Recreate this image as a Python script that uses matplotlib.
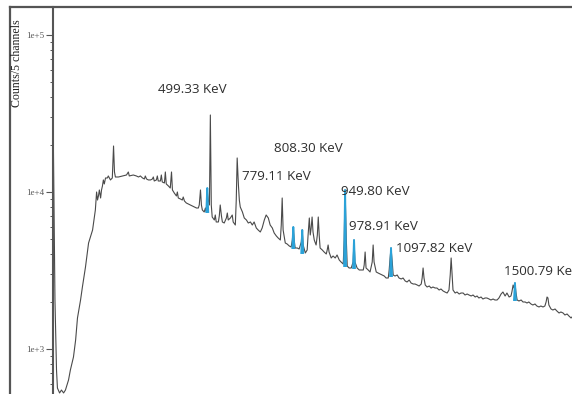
import matplotlib
matplotlib.use('Agg')
import matplotlib.pyplot as plt
from matplotlib.lines import Line2D
from matplotlib import ticker

# spectrum: energy (keV) and counts per 5 channels
energy = [3, 8, 13, 16, 23, 29, 36, 42, 52, 58, 68, 75, 81, 91, 97, 107, 117, 130, 139, 143,
          146, 149, 152, 156, 159, 162, 165, 168, 172, 178, 181, 188, 194, 198, 201, 204, 214, 227, 240, 246,
          249, 262, 272, 279, 285, 292, 298, 301, 305, 311, 318, 324, 327, 330, 337, 340, 343, 350, 353, 356,
          363, 366, 369, 376, 382, 386, 389, 395, 402, 405, 408, 415, 421, 424, 428, 434, 441, 447, 454, 460,
          467, 473, 476, 480, 483, 486, 492, 496, 499, 502, 505, 509, 512, 515, 518, 525, 528, 531, 538, 541,
          544, 548, 551, 557, 564, 567, 570, 577, 583, 586, 593, 596, 599, 603, 606, 609, 616, 622, 629, 635,
          642, 648, 654, 661, 667, 674, 680, 687, 693, 700, 706, 713, 719, 726, 732, 739, 742, 745, 748, 755,
          761, 768, 774, 778, 781, 784, 787, 794, 800, 807, 810, 813, 820, 826, 829, 833, 836, 839, 842, 845,
          849, 855, 859, 862, 865, 868, 875, 881, 888, 891, 894, 897, 904, 910, 917, 923, 930, 936, 943, 946,
          949, 953, 956, 962, 969, 975, 978, 981, 988, 995, 1001, 1008, 1011, 1014, 1017, 1024, 1030, 1037, 1040, 1043,
          1050, 1056, 1063, 1069, 1076, 1082, 1089, 1092, 1095, 1098, 1102, 1105, 1111, 1118, 1124, 1131, 1137, 1144, 1150, 1157,
          1163, 1170, 1176, 1183, 1189, 1196, 1199, 1202, 1205, 1209, 1215, 1222, 1228, 1234, 1241, 1247, 1254, 1260, 1267, 1273,
          1280, 1286, 1290, 1293, 1296, 1299, 1306, 1312, 1319, 1325, 1332, 1338, 1345, 1351, 1358, 1364, 1371, 1377, 1383, 1390,
          1396, 1403, 1409, 1416, 1422, 1429, 1435, 1442, 1448, 1455, 1461, 1468, 1474, 1481, 1487, 1490, 1494, 1497, 1500, 1503,
          1507, 1513, 1520, 1526, 1533, 1539, 1545, 1552, 1558, 1565, 1571, 1578, 1584, 1591, 1597, 1601, 1604, 1607, 1610, 1617,
          1623, 1630, 1636, 1643, 1649, 1656, 1662, 1669, 1675, 1682, 1685]
counts = [18500, 2050, 735, 564, 525, 548, 525, 548, 635, 735, 889, 1141, 1576, 2052, 2483, 3329, 4734, 5728, 7682, 10000,
          8890, 9430, 10300, 9158, 10300, 10920, 11930, 11250, 12280, 12280, 12650, 11930, 12280, 19630, 13410, 12460, 12460, 12650, 12830, 13410,
          12650, 12830, 12650, 12460, 12650, 12280, 12100, 12650, 12100, 11930, 11930, 12100, 12460, 11750, 11930, 12650, 11750, 11750, 12830, 11580,
          11410, 13410, 11250, 10920, 10600, 13410, 10300, 9850, 9430, 10000, 9158, 9024, 8890, 9290, 8763, 8511, 8385, 8265, 8140, 8026,
          7907, 7907, 8265, 10300, 8265, 7682, 7458, 7907, 7458, 10300, 8890, 8265, 30930, 8265, 6930, 6632, 7137, 6442, 6442, 7033,
          8265, 7033, 6442, 6346, 6830, 7348, 6632, 6830, 7137, 6442, 6163, 8890, 16470, 11080, 8890, 8026, 7458, 6830, 6632, 6346,
          6442, 6163, 6442, 5898, 5728, 5562, 5898, 6632, 7137, 6830, 6163, 5898, 5482, 5246, 5093, 4946, 6163, 9158, 5728, 4734,
          4665, 4529, 4464, 4946, 5985, 4946, 4398, 4398, 4335, 4803, 5728, 4597, 4088, 4272, 5323, 6830, 5323, 5898, 6930, 5562,
          4946, 4597, 5323, 6930, 5323, 4398, 4272, 4148, 4028, 4272, 4597, 4148, 3799, 3912, 3799, 3969, 3689, 3582, 3478, 4946,
          10300, 4946, 3378, 3281, 3281, 3582, 4946, 3582, 3281, 3186, 3186, 3186, 3428, 4148, 3281, 3186, 3094, 3582, 4597, 3582,
          3094, 3049, 3004, 2961, 2917, 2833, 2833, 3186, 3799, 4398, 3582, 2961, 2917, 2961, 2833, 2792, 2833, 2711, 2672, 2751,
          2633, 2594, 2594, 2556, 2519, 2594, 2833, 3281, 2833, 2556, 2483, 2519, 2446, 2483, 2446, 2446, 2376, 2411, 2341, 2307,
          2273, 2376, 2961, 3799, 2961, 2376, 2273, 2307, 2240, 2273, 2273, 2208, 2240, 2208, 2176, 2208, 2144, 2176, 2113, 2144,
          2082, 2113, 2113, 2082, 2052, 2082, 2052, 2052, 2113, 2240, 2307, 2176, 2273, 2144, 2176, 2307, 2556, 2446, 2633, 2307,
          2052, 2022, 2052, 1993, 1993, 1963, 1993, 1935, 1907, 1935, 1879, 1852, 1879, 1852, 1879, 1993, 2144, 2113, 1907, 1798,
          1772, 1798, 1746, 1696, 1721, 1696, 1647, 1671, 1623, 1576, 1599]

# highlighted (blue) peaks: centre, top, base
blue_E = [502, 781, 810, 949, 978, 1098, 1500]
blue_top = [10600, 5985, 5728, 10300, 4946, 4398, 2633]
blue_base = [7458, 4398, 4088, 3378, 3281, 2917, 2052]

# labels and where they sit (keV, counts)
labels = ['499.33 KeV', '808.30 KeV', '779.11 KeV', '949.80 KeV', '978.91 KeV', '1097.82 KeV', '1500.79 KeV']
label_E = [343, 719, 616, 936, 962, 1115, 1464]
label_C = [44640, 18790, 12460, 10000, 6073, 4398, 3094]

yticks = [1e3, 1e4, 1e5]
ytick_labels = ['1e+3', '1e+4', '1e+5']

fig = plt.figure(figsize=(5.72, 3.94), dpi=100)
ax = fig.add_axes([52.5 / 572, 0, 519.5 / 572, 387 / 394])

ax.plot(energy, counts, color='#4a4a4a', lw=0.8)
for e, t, b in zip(blue_E, blue_top, blue_base):
    ax.plot([e - 3, e, e + 3], [b, t, b], color='#2ba2d8', lw=1.4)

for s, e, c in zip(labels, label_E, label_C):
    ax.text(e, c, s, fontsize=9.6, family='Open Sans', color='#2e2e2e', ha='left', va='center',
            clip_on=False)

ax.set_yscale('log')
ax.set_xlim(0, 1685)
ax.set_ylim(517, 150700)
ax.yaxis.set_major_locator(ticker.FixedLocator(yticks))
ax.yaxis.set_major_formatter(ticker.FixedFormatter(ytick_labels))
ax.yaxis.set_minor_locator(ticker.LogLocator(base=10, subs=range(2, 10), numticks=20))
ax.yaxis.set_minor_formatter(ticker.NullFormatter())
ax.tick_params(axis='y', which='major', length=5, width=0.8, color='#555555', labelsize=6.5,
               labelcolor='#555555', pad=1)
ax.tick_params(axis='y', which='minor', length=2.5, width=0.7, color='#555555')
for t in ax.get_yticklabels():
    t.set_family('Liberation Serif')
ax.set_xticks([])
for side in ['top', 'right', 'bottom']:
    ax.spines[side].set_visible(False)
ax.spines['left'].set_color('#555555')
ax.spines['left'].set_linewidth(1.5)

# outer frame (left and top edges)
fig.add_artist(Line2D([9.5 / 572, 9.5 / 572], [0, 1 - 7 / 394], color='#555555', lw=1.6))
fig.add_artist(Line2D([9.5 / 572, 1], [1 - 7 / 394, 1 - 7 / 394], color='#555555', lw=1.6))

fig.text(17 / 572, 1 - 63 / 394, 'Counts/5 channels', rotation=90, ha='center', va='center',
         fontsize=8.6, family='Liberation Serif', color='#222222')

plt.savefig('out.png', dpi=100)
